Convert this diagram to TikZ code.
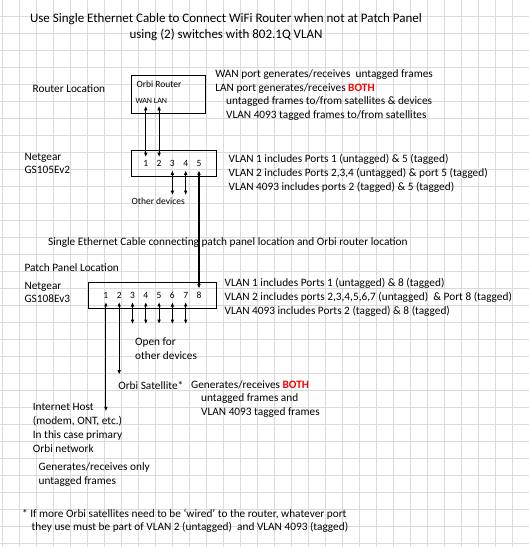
\documentclass[tikz,border=0pt]{standalone}
\usepackage{fontspec}
\setmainfont{Carlito}
\usetikzlibrary{positioning}
\usetikzlibrary{arrows.meta}

\tikzset{
  gridline/.style={gray!28, line width=0.9pt},
  body/.style={anchor=west, inner sep=0pt, align=left, font=\fontsize{11.3}{13.8}\selectfont},
  tiny/.style={anchor=west, inner sep=0pt, font=\fontsize{9.5}{11}\selectfont},
  port/.style={inner sep=0.5pt, outer sep=3pt, font=\fontsize{9.5}{11}\selectfont},
  unit/.style={draw=black, line width=1.1pt, inner sep=0pt},
  wire/.style={black, line width=1.1pt, {Latex[length=4.5pt,width=3.6pt]}-{Latex[length=4.5pt,width=3.6pt]}}
}
\newcommand{\both}{{\color{red}\textbf{BOTH}}}

\begin{document}
\begin{tikzpicture}[x=1pt,y=-1pt]
\useasboundingbox (0,0) rectangle (529,547);
\fill[white] (0,0) rectangle (529,547);

% grid
\foreach \x in {0,...,30}
{
	\draw[gridline] ({2.7+17*\x},0) -- ({2.7+17*\x},547);
}
\foreach \y in {1,...,32}
{
	\draw[gridline] (0,{-0.7+17*\y}) -- (529,{-0.7+17*\y});
}

%title
\node[align=center, inner sep=0pt, font=\fontsize{13}{16.2}\selectfont] (title) at (226,27.3) {Use Single Ethernet Cable to Connect WiFi Router when not at Patch Panel\\using (2) switches with 802.1Q VLAN};

%router location
\node[body] (routerloc) at (32.5,88.7) {Router Location};
\node[unit, minimum width=74.3pt, minimum height=38.5pt] (router) at (168.35,94.45) {};
\node[tiny] (orbi) at (136.3,84) {Orbi Router};
\node[anchor=west, inner sep=0pt, outer sep=2pt, font=\fontsize{8}{9}\selectfont] (wanlan) at (133.6,101.2) {WAN LAN};
\node[body] (routertxt) at (215.2,95) {WAN port generates/receives\ \ untagged frames\\LAN port generates/receives \both\\\hspace*{10.8pt}untagged frames to/from satellites \& devices\\\hspace*{10.8pt}VLAN 4093 tagged frames to/from satellites};

%switch at router
\node[body] (ng1) at (24.3,163.4) {Netgear\\GS105Ev2};
\node[unit, minimum width=85.1pt, minimum height=25.7pt] (sw1) at (173.75,163.75) {};
\foreach \p in {1,...,5}
{
	\node[port] (s1p\p) at ({145.8+13.3*(\p-1)},163.7) {\p};
}
\node[tiny, anchor=center, outer sep=3pt] (other) at (158.2,201.5) {Other devices};
\node[body] (sw1txt) at (228.4,173.4) {VLAN 1 includes Ports 1 (untagged) \& 5 (tagged)\\VLAN 2 includes Ports 2,3,4 (untagged) \& port 5 (tagged)\\VLAN 4093 includes ports 2 (tagged) \& 5 (tagged)};

%cable text
\node[body] (cable) at (47.9,243) {Single Ethernet Cable connecting patch panel location and Orbi router location};

%switch at patch panel
\node[body] (pploc) at (24.3,267.3) {Patch Panel Location};
\node[body] (ng2) at (24.3,292.4) {Netgear\\GS108Ev3};
\node[unit, minimum width=127.9pt, minimum height=26.3pt] (sw2) at (152.35,295.75) {};
\foreach \p in {1,...,8}
{
	\node[port] (s2p\p) at ({105.9+13.3*(\p-1)},295.4) {\p};
}
\node[body] (sw2txt) at (224.4,297.1) {VLAN 1 includes Ports 1 (untagged) \& 8 (tagged)\\VLAN 2 includes ports 2,3,4,5,6,7 (untagged)\ \ \& Port 8 (tagged)\\VLAN 4093 includes Ports 2 (tagged) \& 8 (tagged)};

%devices below
\node[body] (open) at (135,348.7) {Open for\\other devices};
\node[body] (sat) at (118.1,385.5) {Orbi Satellite*};
\node[body] (sattxt) at (191,398.9) {Generates/receives \both\\\hspace*{10pt}untagged frames and\\\hspace*{10pt}VLAN 4093 tagged frames};
\node[body] (host) at (32.7,427.8) {Internet Host\\(modem, ONT, etc.)\\In this case primary\\Orbi network};
\node[body] (hosttxt) at (38.5,474.5) {Generates/receives only\\untagged frames};

%footnote
\node[body] (note) at (21.9,520.9) {* If more Orbi satellites need to be ‘wired’ to the router, whatever port\\\hspace*{9.5pt}they use must be part of VLAN 2 (untagged)\ \ and VLAN 4093 (tagged)};

%wires
\coordinate (openend) at (0,324.1);
\coordinate (satend) at (0,374.7);
\coordinate (hostend) at (105.9,411.4);
\draw[wire] (s1p1 |- wanlan.south) -- (s1p1.north);
\draw[wire] (s1p2 |- wanlan.south) -- (s1p2.north);
\foreach \p in {3,4}
{
	\draw[wire] (s1p\p.south) -- (s1p\p |- other.north);
}
\draw[wire] (s1p5.south) -- (s2p8.north);
\foreach \p in {3,...,7}
{
	\draw[wire] (s2p\p.south) -- (s2p\p |- openend);
}
\draw[wire] (s2p2.south) -- (s2p2 |- satend);
\draw[wire] (s2p1.south) -- (hostend);

\end{tikzpicture}
\end{document}
